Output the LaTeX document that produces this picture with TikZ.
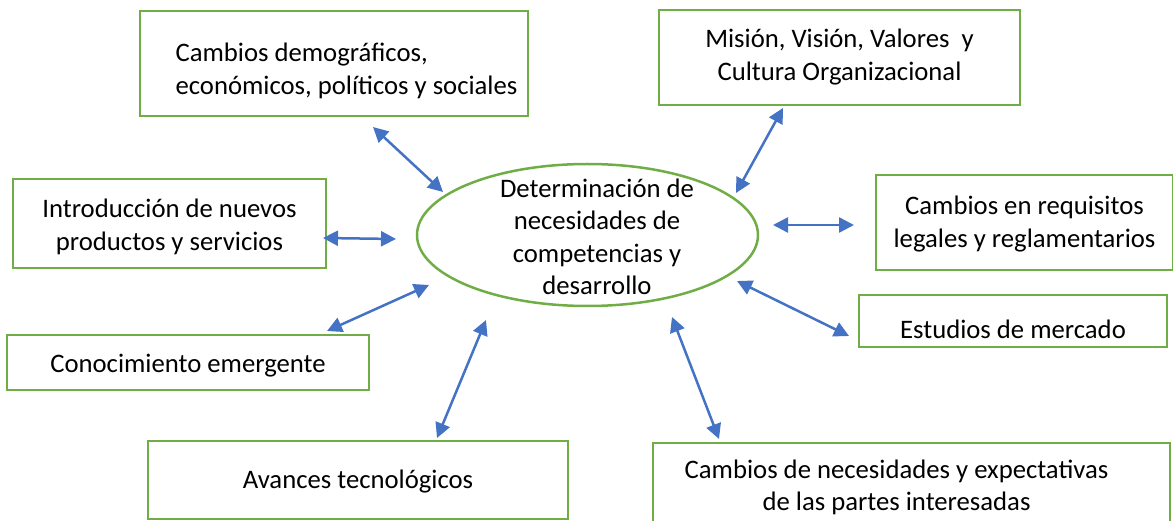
\documentclass[tikz,border=0pt]{standalone}
\usepackage{fontspec}
\setmainfont{Carlito}
\usetikzlibrary{arrows.meta,shapes.geometric}
\definecolor{verdecaja}{HTML}{70AD47}
\definecolor{azulflecha}{HTML}{4472C4}
% altura de la primera linea y profundidad de la ultima
\newcommand{\arriba}[1]{\rule{0pt}{#1pt}}
\newcommand{\abajo}[1]{\rule[-#1pt]{0pt}{0pt}}

\begin{document}
\begin{tikzpicture}[
      x=1pt, y=-1pt,
      every node/.style={font=\fontsize{26.7}{32.5}\selectfont, inner sep=0pt},
      caja/.style={rectangle, draw=verdecaja, line width=2.5pt, align=center},
      elipse/.style={ellipse, draw=verdecaja, line width=2.5pt, minimum width=341pt, minimum height=142pt},
      flecha/.style={draw=azulflecha, line width=2.5pt,
        {Triangle[length=15pt,width=15pt]}-{Triangle[length=15pt,width=15pt]}}
    ]
    \useasboundingbox (0,0) rectangle (1173,521);
    \clip (0,0) rectangle (1173,521);

    % centro
    \node[elipse] (centro) at (587.5,235) {};
    \node[align=center] (centrotxt) at (597,237) {Determinación de\\necesidades de\\competencias y\\desarrollo};

    % cajas
    \node[caja, align=left, minimum width=388pt, minimum height=105pt] (demo) at (334,63.5)
      {\hspace*{25pt}\arriba{49.5}Cambios demográficos,\\\hspace*{25pt}económicos, políticos y sociales\abajo{20}};
    \node[caja, minimum width=361pt, minimum height=95pt] (mision) at (839.5,57.5)
      {\arriba{33.5}Misión, Visión, Valores~ y\\Cultura Organizacional\abajo{20}};
    \node[caja, minimum width=313pt, minimum height=89pt] (intro) at (169.5,223.5)
      {\arriba{31.5}Introducción de nuevos\\productos y servicios\abajo{10}};
    \node[caja, minimum width=297pt, minimum height=95pt] (legal) at (1024.5,222.5)
      {\arriba{37.5}Cambios en requisitos\\legales y reglamentarios\abajo{20}};
    \node[caja, minimum width=308pt, minimum height=52pt] (mercado) at (1013,321)
      {\arriba{42}Estudios de mercado\abajo{8}};
    \node[caja, minimum width=362pt, minimum height=55pt] (conoc) at (188,362.5)
      {\arriba{27}Conocimiento emergente\abajo{8}};
    \node[caja, minimum width=420pt, minimum height=78pt] (tecno) at (358,480)
      {\arriba{36}Avances tecnológicos\abajo{20}};
    \node[caja, minimum width=517pt, minimum height=90pt] (partes) at (911.5,488)
      {\arriba{32.5}Cambios de necesidades y expectativas\hspace*{30pt}\\de las partes interesadas\hspace*{30pt}\abajo{20}};

    % extremos de flechas
    \coordinate (demo-e) at (373,127);   \coordinate (demo-c) at (443,192);
    \coordinate (mision-e) at (783,108); \coordinate (mision-c) at (736,193);
    \coordinate (intro-e) at (323,238);  \coordinate (intro-c) at (396,239);
    \coordinate (legal-e) at (854,225);  \coordinate (legal-c) at (773,225);
    \coordinate (conoc-e) at (327,331);  \coordinate (conoc-c) at (429,285);
    \coordinate (mercado-e) at (849,336); \coordinate (mercado-c) at (737,281);
    \coordinate (tecno-e) at (437,438);  \coordinate (tecno-c) at (486,320);
    \coordinate (partes-e) at (719,439); \coordinate (partes-c) at (672,317);

    \foreach \n in {demo,mision,intro,legal,conoc,mercado,tecno,partes}
      \draw[flecha] (\n-e) -- (\n-c);
\end{tikzpicture}
\end{document}
